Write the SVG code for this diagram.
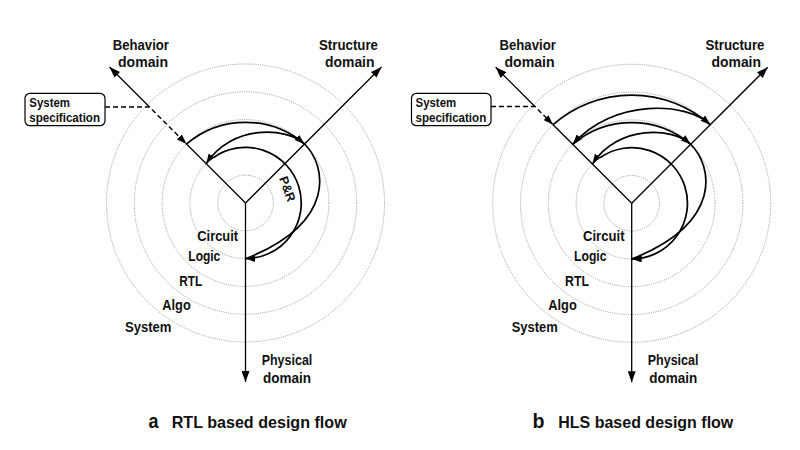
<svg xmlns="http://www.w3.org/2000/svg" width="800" height="450" viewBox="0 0 800 450">
<style>
  .ring{fill:none;stroke:#8a8a8a;stroke-width:0.9;stroke-dasharray:1 1.3}
  .axis{fill:none;stroke:#000;stroke-width:1.3}
  .flow{fill:none;stroke:#000;stroke-width:1.7}
  .dash{fill:none;stroke:#000;stroke-width:1.4;stroke-dasharray:5 3}
  .box{fill:#fff;stroke:#000;stroke-width:1.2}
  text{font-family:"Liberation Sans",Arial,sans-serif;font-weight:bold;fill:#111}
  .dom{font-size:15px}
  .lvl{font-size:14.5px}
  .spec{font-size:13px}
  .pr{font-size:12.5px}
  .cap{font-size:16.5px}
  .let{font-size:20px}
</style>
<defs>
  <marker id="ah" markerUnits="userSpaceOnUse" markerWidth="11" markerHeight="8" refX="11" refY="4" orient="auto">
    <path d="M0,0 L11,4 L0,8 z" fill="#000"/>
  </marker>
  <marker id="fa" markerUnits="userSpaceOnUse" markerWidth="10" markerHeight="7" refX="10" refY="3.5" orient="auto">
    <path d="M0,0 L10,3.5 L0,7 z" fill="#000"/>
  </marker>
</defs>
<rect width="800" height="450" fill="#fff"/>

<!-- Panel a -->
<g id="panel-a">
  <g id="rings-a">
    <circle class="ring" cx="245.5" cy="203" r="27.8"/>
    <circle class="ring" cx="245.5" cy="203" r="55.6"/>
    <circle class="ring" cx="245.5" cy="203" r="83.4"/>
    <circle class="ring" cx="245.5" cy="203" r="111.2"/>
    <circle class="ring" cx="245.5" cy="203" r="139"/>
  </g>
  <g id="axes-a">
    <path class="axis" d="M149.5,107 L109.5,67" marker-end="url(#ah)"/>
    <path class="axis" d="M186.5,144 L245.5,203"/>
    <path class="axis" d="M245.5,203 L381.5,67" marker-end="url(#ah)"/>
    <path class="axis" d="M245.5,203 L245.5,382" marker-end="url(#ah)"/>
  </g>
  <g id="connectors-a">
    <path class="dash" d="M105,107 L149.5,107 L186.5,144" marker-end="url(#fa)"/>
    <path class="flow" d="M186.5,144 A91,91 0 0,1 304.5,144" marker-end="url(#fa)"/>
    <path class="flow" d="M304.5,144 C287,127 232,124 206.2,163.7" marker-end="url(#fa)"/>
    <path class="flow" d="M304.5,144 C326,165 338,222 246,258.6"/>
    <path class="flow" d="M213.7,157.5 A55.6,55.6 0 1,1 245.5,258.6" marker-end="url(#fa)"/>
    <text class="pr" transform="translate(287.5,189) rotate(70)" x="0" y="4.3" text-anchor="middle" textLength="26" lengthAdjust="spacingAndGlyphs">P&amp;R</text>
  </g>
  <g id="spec-a">
    <rect class="box" x="25" y="93.3" width="80" height="32.4" rx="5"/>
    <text class="spec" x="29.3" y="106.7" textLength="40.7" lengthAdjust="spacingAndGlyphs">System</text>
    <text class="spec" x="29.3" y="121.7" textLength="70.7" lengthAdjust="spacingAndGlyphs">specification</text>
  </g>
  <g id="behavior-a">
    <text class="dom" x="112.7" y="50" textLength="56.3" lengthAdjust="spacingAndGlyphs">Behavior</text>
    <text class="dom" x="118" y="66.7" textLength="50" lengthAdjust="spacingAndGlyphs">domain</text>
  </g>
  <g id="structure-a">
    <text class="dom" x="319" y="50" textLength="59" lengthAdjust="spacingAndGlyphs">Structure</text>
    <text class="dom" x="325" y="66.7" textLength="49.5" lengthAdjust="spacingAndGlyphs">domain</text>
  </g>
  <g id="physical-a">
    <text class="dom" x="261.7" y="365.3" textLength="50.6" lengthAdjust="spacingAndGlyphs">Physical</text>
    <text class="dom" x="263" y="382.5" textLength="48" lengthAdjust="spacingAndGlyphs">domain</text>
  </g>
  <g id="levels-a">
    <text class="lvl" x="197.3" y="240.7" textLength="40.8" lengthAdjust="spacingAndGlyphs">Circuit</text>
    <text class="lvl" x="188.3" y="261" textLength="32" lengthAdjust="spacingAndGlyphs">Logic</text>
    <text class="lvl" x="179.3" y="286" textLength="23" lengthAdjust="spacingAndGlyphs">RTL</text>
    <text class="lvl" x="162.3" y="310" textLength="28.4" lengthAdjust="spacingAndGlyphs">Algo</text>
    <text class="lvl" x="125" y="331.7" textLength="46.5" lengthAdjust="spacingAndGlyphs">System</text>
  </g>
  <g id="caption-a">
    <text class="let" x="148.5" y="428.3" textLength="10" lengthAdjust="spacingAndGlyphs">a</text>
    <text class="cap" x="171.7" y="428.3" textLength="175" lengthAdjust="spacingAndGlyphs">RTL based design flow</text>
  </g>
</g>

<!-- Panel b -->
<g id="panel-b">
  <g id="rings-b">
    <circle class="ring" cx="631.7" cy="203.3" r="27.8"/>
    <circle class="ring" cx="631.7" cy="203.3" r="55.6"/>
    <circle class="ring" cx="631.7" cy="203.3" r="83.4"/>
    <circle class="ring" cx="631.7" cy="203.3" r="111.2"/>
    <circle class="ring" cx="631.7" cy="203.3" r="139"/>
  </g>
  <g id="axes-b">
    <path class="axis" d="M534.9,106.5 L495.7,67.3" marker-end="url(#ah)"/>
    <path class="axis" d="M553.1,124.7 L631.7,203.3"/>
    <path class="axis" d="M631.7,203.3 L767.7,67.3" marker-end="url(#ah)"/>
    <path class="axis" d="M631.7,203.3 L631.7,382.3" marker-end="url(#ah)"/>
  </g>
  <g id="connectors-b">
    <path class="dash" d="M491,106.5 L534.9,106.5 L553.1,124.7" marker-end="url(#fa)"/>
    <path class="flow" d="M553.1,124.7 A119,119 0 0,1 710.3,124.7" marker-end="url(#fa)"/>
    <path class="flow" d="M710.3,124.7 C687,102 613.7,98 572.7,144.3" marker-end="url(#fa)"/>
    <path class="flow" d="M572.7,144.3 A91,91 0 0,1 690.7,144.3" marker-end="url(#fa)"/>
    <path class="flow" d="M690.7,144.3 C673.2,127.3 618.2,124.3 592.4,164" marker-end="url(#fa)"/>
    <path class="flow" d="M690.7,144.3 C712.2,165.3 724.2,222.3 632.2,258.9"/>
    <path class="flow" d="M599.9,157.8 A55.6,55.6 0 1,1 631.7,258.9" marker-end="url(#fa)"/>
  </g>
  <g id="spec-b">
    <rect class="box" x="411.5" y="93.3" width="79.5" height="32.4" rx="5"/>
    <text class="spec" x="415.5" y="106.7" textLength="40.7" lengthAdjust="spacingAndGlyphs">System</text>
    <text class="spec" x="415.5" y="121.7" textLength="70.7" lengthAdjust="spacingAndGlyphs">specification</text>
  </g>
  <g id="behavior-b">
    <text class="dom" x="499.5" y="50" textLength="56.3" lengthAdjust="spacingAndGlyphs">Behavior</text>
    <text class="dom" x="504.5" y="66.7" textLength="50" lengthAdjust="spacingAndGlyphs">domain</text>
  </g>
  <g id="structure-b">
    <text class="dom" x="705.5" y="50" textLength="59" lengthAdjust="spacingAndGlyphs">Structure</text>
    <text class="dom" x="711.5" y="66.7" textLength="49.5" lengthAdjust="spacingAndGlyphs">domain</text>
  </g>
  <g id="physical-b">
    <text class="dom" x="647.8" y="365.3" textLength="50.6" lengthAdjust="spacingAndGlyphs">Physical</text>
    <text class="dom" x="649.2" y="382.5" textLength="48" lengthAdjust="spacingAndGlyphs">domain</text>
  </g>
  <g id="levels-b">
    <text class="lvl" x="583" y="240.7" textLength="41.5" lengthAdjust="spacingAndGlyphs">Circuit</text>
    <text class="lvl" x="574" y="261" textLength="32.5" lengthAdjust="spacingAndGlyphs">Logic</text>
    <text class="lvl" x="565" y="286" textLength="24" lengthAdjust="spacingAndGlyphs">RTL</text>
    <text class="lvl" x="548.3" y="310" textLength="28.4" lengthAdjust="spacingAndGlyphs">Algo</text>
    <text class="lvl" x="511.7" y="331.7" textLength="46" lengthAdjust="spacingAndGlyphs">System</text>
  </g>
  <g id="caption-b">
    <text class="let" x="532.5" y="428.3" textLength="12" lengthAdjust="spacingAndGlyphs">b</text>
    <text class="cap" x="558.3" y="428.3" textLength="175" lengthAdjust="spacingAndGlyphs">HLS based design flow</text>
  </g>
</g>
</svg>
